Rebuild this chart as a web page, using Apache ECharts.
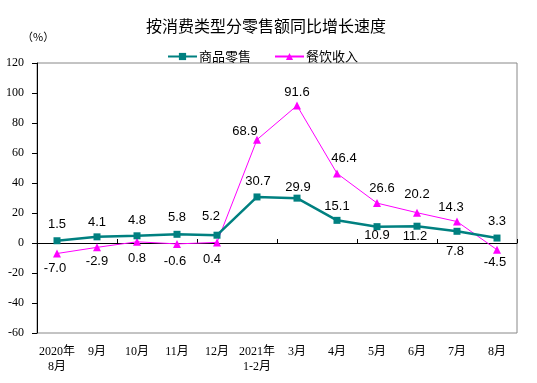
<!DOCTYPE html>
<html>
<head>
<meta charset="utf-8">
<script src="https://cdn.jsdelivr.net/npm/echarts@6/dist/echarts.min.js"></script>
<style>html,body{margin:0;padding:0;background:#fff}#c{width:537px;height:383px}</style>
</head>
<body>
<div id="c"></div>
<script>
var categories = ['2020年\n8月','9月','10月','11月','12月','2021年\n1-2月','3月','4月','5月','6月','7月','8月'];
var goodsRetail = [1.5, 4.1, 4.8, 5.8, 5.2, 30.7, 29.9, 15.1, 10.9, 11.2, 7.8, 3.3];
var catering = [-7.0, -2.9, 0.8, -0.6, 0.4, 68.9, 91.6, 46.4, 26.6, 20.2, 14.3, -4.5];
var yTicks = {min: -60, max: 120, interval: 20};

// label placement (style only)
var goodsLabelOffsets = [[0,-16],[0,-14],[0,-15],[0,-17],[-6,-19],[1,-16],[1,-11],[0,-14],[0,9],[-2,10],[-2,20],[0,-17]];
var cateringLabelOffsets = [[-2,15],[0,14],[0,16.5],[-2,18],[-5,17],[-12,-8],[0,-13],[7,-15],[5,-15],[0,-18],[-6,-14],[-2,13]];

function withLabels(values, offsets) {
  return values.map(function (v, i) {
    return {value: v, label: {offset: offsets[i]}};
  });
}

var labelStyle = {
  show: true, position: 'inside', color: '#000',
  fontFamily: 'Liberation Sans, Arial, sans-serif', fontSize: 13,
  formatter: function (p) { return p.value.toFixed(1); }
};

var chart = echarts.init(document.getElementById('c'), null, {renderer: 'canvas'});
chart.setOption({
  animation: false,
  backgroundColor: '#fff',
  title: [
    {text: '按消费类型分零售额同比增长速度', left: 141, top: 13,
     textStyle: {fontFamily: 'Noto Sans CJK SC', fontSize: 16, fontWeight: 'normal', color: '#000'}},
    {text: '（%）', left: 17, top: 26,
     textStyle: {fontFamily: 'Noto Sans CJK SC', fontSize: 11, fontWeight: 'normal', color: '#000'}}
  ],
  legend: {
    left: 162, top: 45, itemWidth: 29, itemHeight: 9, itemGap: 23,
    textStyle: {fontFamily: 'Noto Sans CJK SC', fontSize: 13, color: '#000', padding: [0,0,0,-3]},
    data: ['商品零售', '餐饮收入']
  },
  grid: {left: 37, right: 20, top: 63, bottom: 50, show: true, borderColor: '#888', borderWidth: 1, containLabel: false},
  xAxis: [
    {type: 'category', data: categories, boundaryGap: true, position: 'bottom',
     axisLine: {onZero: true, lineStyle: {color: '#000', width: 1}},
     axisTick: {show: true, inside: true, length: 4, lineStyle: {color: '#000'}},
     axisLabel: {show: false}, splitLine: {show: false}},
    {type: 'category', data: categories, boundaryGap: true, position: 'bottom',
     axisLine: {show: false, onZero: false}, axisTick: {show: false},
     axisLabel: {interval: 0, margin: 11, color: '#000', fontSize: 12, lineHeight: 15,
       fontFamily: 'Liberation Serif, Noto Sans CJK SC'},
     splitLine: {show: false}}
  ],
  yAxis: {
    type: 'value', min: yTicks.min, max: yTicks.max, interval: yTicks.interval,
    axisLine: {show: true, lineStyle: {color: '#000', width: 1}},
    axisTick: {show: true, length: 5, lineStyle: {color: '#000'}},
    axisLabel: {margin: 13, color: '#000', fontSize: 12, fontFamily: 'Liberation Serif, Times New Roman, serif'},
    splitLine: {show: false}
  },
  series: [
    {name: '商品零售', type: 'line', xAxisIndex: 0, data: withLabels(goodsRetail, goodsLabelOffsets),
     symbol: 'rect', symbolSize: 7, color: '#008080',
     lineStyle: {color: '#008080', width: 2.5}, itemStyle: {color: '#008080'},
     label: labelStyle, z: 3},
    {name: '餐饮收入', type: 'line', xAxisIndex: 0, data: withLabels(catering, cateringLabelOffsets),
     symbol: 'triangle', symbolSize: 8, color: '#FF00FF',
     lineStyle: {color: '#FF00FF', width: 1}, itemStyle: {color: '#FF00FF'},
     label: labelStyle, z: 2}
  ]
});
</script>
</body>
</html>
